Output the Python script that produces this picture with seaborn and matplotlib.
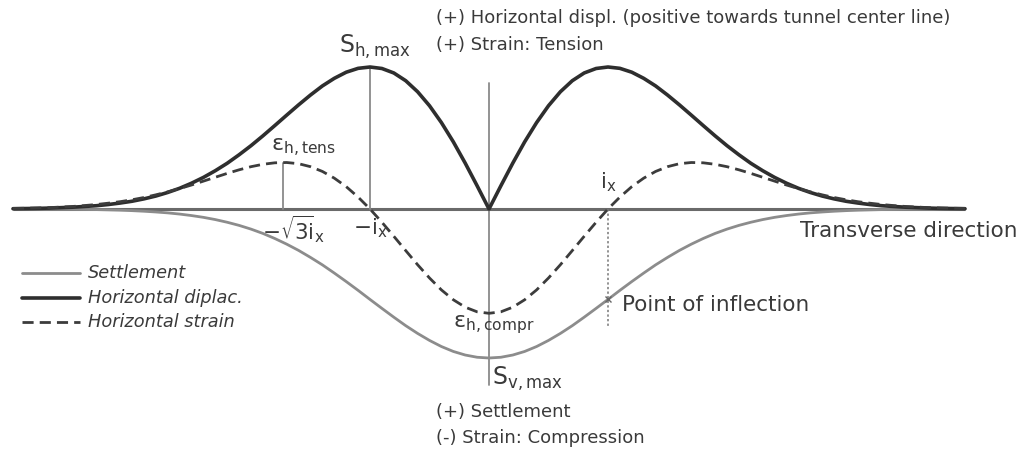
import numpy as np
import pandas as pd
import matplotlib
matplotlib.use("Agg")
import matplotlib.pyplot as plt
import seaborn as sns

# Transverse position, in multiples of the trough width parameter i_x (one side)
offset_ix = [0.0, 0.1, 0.2, 0.3, 0.4, 0.5, 0.6, 0.7, 0.8, 0.9, 1.0,
             1.1, 1.2, 1.3, 1.4, 1.5, 1.6, 1.7, 1.8, 1.9, 2.0,
             2.1, 2.2, 2.3, 2.4, 2.5, 2.6, 2.7, 2.8, 2.9, 3.0,
             3.1, 3.2, 3.3, 3.4, 3.5, 3.6, 3.7, 3.8, 3.9, 4.0]

# Vertical settlement (drawn downwards), normalised by S_v,max
settlement = [-1.000, -0.995, -0.980, -0.956, -0.923, -0.882, -0.835, -0.783,
              -0.726, -0.667, -0.607, -0.546, -0.487, -0.430, -0.375, -0.325,
              -0.278, -0.236, -0.198, -0.164, -0.135, -0.110, -0.089, -0.071,
              -0.056, -0.044, -0.034, -0.026, -0.020, -0.015, -0.011, -0.008,
              -0.006, -0.004, -0.003, -0.002, -0.002, -0.001, -0.001, 0.000,
              0.000]

# Horizontal displacement (positive towards the tunnel centre line)
horizontal_displ = [0.000, 0.156, 0.308, 0.451, 0.580, 0.693, 0.787, 0.861,
                    0.913, 0.943, 0.953, 0.944, 0.918, 0.877, 0.826, 0.765,
                    0.699, 0.630, 0.560, 0.491, 0.425, 0.364, 0.307, 0.257,
                    0.212, 0.173, 0.139, 0.111, 0.087, 0.068, 0.052, 0.040,
                    0.030, 0.022, 0.017, 0.012, 0.009, 0.006, 0.004, 0.003,
                    0.002]

# Horizontal strain (tension positive, compression negative)
horizontal_strain = [-0.700, -0.690, -0.659, -0.609, -0.543, -0.463, -0.374,
                     -0.279, -0.183, -0.089, 0.000, 0.080, 0.150, 0.207,
                     0.252, 0.284, 0.304, 0.312, 0.310, 0.300, 0.284, 0.263,
                     0.239, 0.213, 0.187, 0.161, 0.137, 0.115, 0.095, 0.077,
                     0.062, 0.049, 0.039, 0.030, 0.023, 0.017, 0.013, 0.009,
                     0.007, 0.005, 0.004]

# Key values marked on the curves
S_h_max = 0.953
eps_tens = 0.312
i_x = 1.0
sqrt3_ix = 1.732
inflection_settlement = -0.607

legend_labels = ["Settlement", "Horizontal diplac.", "Horizontal strain"]

# The profiles are symmetric about the tunnel centre line
half = np.array(offset_ix)
x_full = np.concatenate([-half[::-1], half[1:]])


def mirror(vals):
    v = np.array(vals)
    return np.concatenate([v[::-1], v[1:]])


df = pd.DataFrame({
    "x": np.tile(x_full, 3),
    "value": np.concatenate([mirror(settlement), mirror(horizontal_displ),
                             mirror(horizontal_strain)]),
    "curve": np.repeat(legend_labels, len(x_full)),
})

sns.set_theme(style="white")
plt.rcParams["font.family"] = ["DejaVu Sans"]
plt.rcParams["mathtext.fontset"] = "dejavusans"

fig = plt.figure(figsize=(10.27, 4.53), dpi=100)
ax = fig.add_axes([0, 0, 1, 1])

# pixel scale: 119 px per i_x horizontally, 149 px per unit vertically
ax.set_xlim(-489 / 119, (1027 - 489) / 119)
ax.set_ylim(-(453 - 209) / 149, 209 / 149)
ax.axis("off")


def px(xp, yp):
    return (xp - 489) / 119, (209 - yp) / 149


text_col = "#3a3a3a"
guide_col = "#8a8a8a"
strain_dash = (0, (4, 2.2))

# transverse axis
ax.plot([x_full[0], x_full[-1]], [0, 0], color="#6a6a6a", lw=2.2,
        solid_capstyle="butt", zorder=1)
# tunnel centre line
ax.plot([0, 0], [px(0, 385)[1], px(0, 83)[1]], color=guide_col,
        lw=1.3, zorder=1)
# guides to the extrema
ax.plot([-i_x, -i_x], [0, S_h_max], color=guide_col, lw=1.3, zorder=1)
ax.plot([-sqrt3_ix, -sqrt3_ix], [0, eps_tens], color=guide_col, lw=1.3,
        zorder=1)
ax.plot([i_x, i_x], [0, px(0, 326)[1]], color="#777777", lw=1.1,
        ls=(0, (1.5, 1.5)), zorder=1)

palette = {"Settlement": "#8c8c8c", "Horizontal diplac.": "#2e2e2e",
           "Horizontal strain": "#3c3c3c"}
widths = {"Settlement": 2.0, "Horizontal diplac.": 2.6,
          "Horizontal strain": 2.0}
sns.lineplot(data=df, x="x", y="value", hue="curve", style="curve",
             palette=palette, hue_order=legend_labels, style_order=legend_labels,
             dashes={"Settlement": "", "Horizontal diplac.": "",
                     "Horizontal strain": strain_dash[1]},
             sort=False, estimator=None, legend=False, ax=ax, zorder=3)
for line, lab in zip(ax.get_lines()[-3:], legend_labels):
    line.set_linewidth(widths[lab])
    if lab == "Horizontal strain":
        line.set_linestyle(strain_dash)

# point of inflection marker
ax.plot([i_x], [inflection_settlement], marker="x", ms=5, mew=1,
        color="#666666", zorder=4)

# legend drawn as short lines with italic labels
for lab, ypx in zip(legend_labels, [273, 298, 322]):
    y = px(0, ypx)[1]
    style = dict(color=palette[lab], lw=widths[lab])
    if lab == "Horizontal strain":
        style["ls"] = strain_dash
    ax.plot([px(22, 0)[0], px(80, 0)[0]], [y, y], **style)
    ax.text(px(88, 0)[0], y, lab, fontsize=12.8, style="italic",
            color=text_col, va="center", ha="left")

notes = [
    ("(+) Horizontal displ. (positive towards tunnel center line)", 436, 18),
    ("(+) Strain: Tension", 436, 45),
    ("(+) Settlement", 436, 412),
    ("(-) Strain: Compression", 436, 438),
]
for s, xp, yp in notes:
    ax.text(*px(xp, yp), s, fontsize=13, color=text_col, va="center",
            ha="left")

ax.text(*px(800, 231), "Transverse direction", fontsize=15.5, color=text_col,
        va="center", ha="left")
ax.text(*px(622, 305), "Point of inflection", fontsize=15.5, color=text_col,
        va="center", ha="left")

math_labels = [
    (r"$\mathrm{S}_\mathrm{h,max}$", 339, 47, 17),
    (r"$\mathrm{\varepsilon}_\mathrm{h,tens}$", 271, 148, 16),
    (r"$-\sqrt{3}\!\mathrm{i}_\mathrm{x}$", 262, 229, 15.5),
    (r"$-\mathrm{i}_\mathrm{x}$", 353, 228, 15.5),
    (r"$\mathrm{i}_\mathrm{x}$", 600, 182, 15.5),
    (r"$\mathrm{\varepsilon}_\mathrm{h,compr}$", 453, 325, 16),
    (r"$\mathrm{S}_\mathrm{v,max}$", 492, 379, 17),
]
for s, xp, yp, fs in math_labels:
    ax.text(*px(xp, yp), s, fontsize=fs, color=text_col, va="center",
            ha="left")

fig.savefig("out.png", dpi=100, facecolor="white")
